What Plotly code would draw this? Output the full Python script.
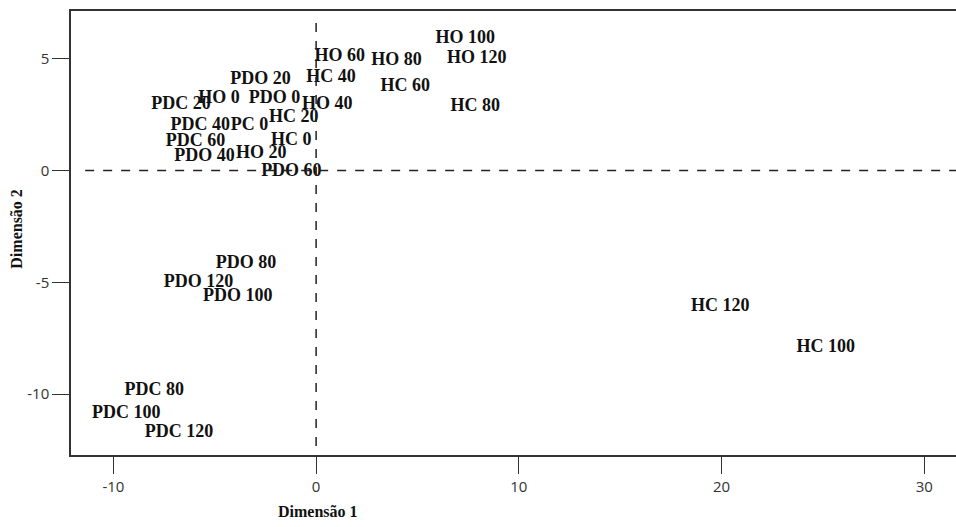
import plotly.graph_objects as go

labels = ["HO 100", "HO 120", "HO 60", "HO 80", "HC 40", "HC 60", "HC 80", "HO 40",
          "PDO 20", "PDO 0", "HO 0", "PDC 20", "PDC 40", "PC 0", "HC 20", "HC 0",
          "PDC 60", "PDO 40", "HO 20", "PDO 60", "PDO 80", "PDO 120", "PDO 100",
          "PDC 80", "PDC 100", "PDC 120", "HC 120", "HC 100"]
dim1 = [7.35, 7.92, 1.17, 3.96, 0.73, 4.40, 7.85, 0.55,
        -2.74, -2.05, -4.79, -6.66, -5.72, -3.29, -1.10, -1.23,
        -5.95, -5.50, -2.71, -1.22, -3.46, -5.80, -3.86,
        -7.98, -9.36, -6.76, 19.93, 25.14]
dim2 = [5.88, 5.02, 5.09, 4.90, 4.14, 3.74, 2.85, 2.93,
        4.09, 3.20, 3.20, 2.93, 2.00, 2.00, 2.36, 1.33,
        1.28, 0.61, 0.75, -0.06, -4.17, -5.01, -5.62,
        -9.82, -10.86, -11.72, -6.07, -7.93]

xticks = [-10, 0, 10, 20, 30]
xticklabels = ["-10", "0", "10", "20", "30"]
yticks = [-10, -5, 0, 5]
yticklabels = ["-10", "-5", "0", "5"]

fig = go.Figure()
fig.add_trace(go.Scatter(
    x=dim1, y=dim2, text=labels, mode="text",
    textposition="middle center",
    textfont=dict(family="Liberation Serif", size=18, color="#111111", weight="bold"),
    hoverinfo="skip", showlegend=False,
))

# reference dashed lines
fig.add_shape(type="line", xref="x", yref="paper", x0=0, x1=0, y0=0.02, y1=0.98,
              line=dict(color="#222222", width=1.5, dash="dash"))
fig.add_shape(type="line", xref="paper", yref="y", x0=0.016, x1=1, y0=0, y1=0,
              line=dict(color="#222222", width=1.5, dash="dash"))

axis_common = dict(
    showgrid=False, zeroline=False, showline=True, linecolor="#333333", linewidth=1.5,
    ticks="outside", ticklen=17, tickwidth=1.2, tickcolor="#333333",
    tickfont=dict(family="Open Sans", size=15, color="#333333"),
)
fig.update_xaxes(range=[-12.09, 31.56], tickvals=xticks, ticktext=xticklabels,
                 mirror=True, **axis_common)
fig.update_yaxes(range=[-12.72, 7.13], tickvals=yticks, ticktext=yticklabels,
                 mirror=False, **axis_common)

fig.add_annotation(text="Dimensão 1", xref="paper", yref="paper", x=0.279, y=-0.128,
                   xanchor="center", yanchor="middle", showarrow=False,
                   font=dict(family="Liberation Serif", size=16, color="#111111", weight="bold"))
fig.add_annotation(text="Dimensão 2", xref="paper", yref="paper", x=-0.062, y=0.51,
                   xanchor="center", yanchor="middle", showarrow=False, textangle=-90,
                   font=dict(family="Liberation Serif", size=16, color="#111111", weight="bold"))

fig.update_layout(
    width=956, height=527,
    margin=dict(l=71, r=0, t=11, b=72),
    plot_bgcolor="white", paper_bgcolor="white",
)

fig.write_html("out.html")
